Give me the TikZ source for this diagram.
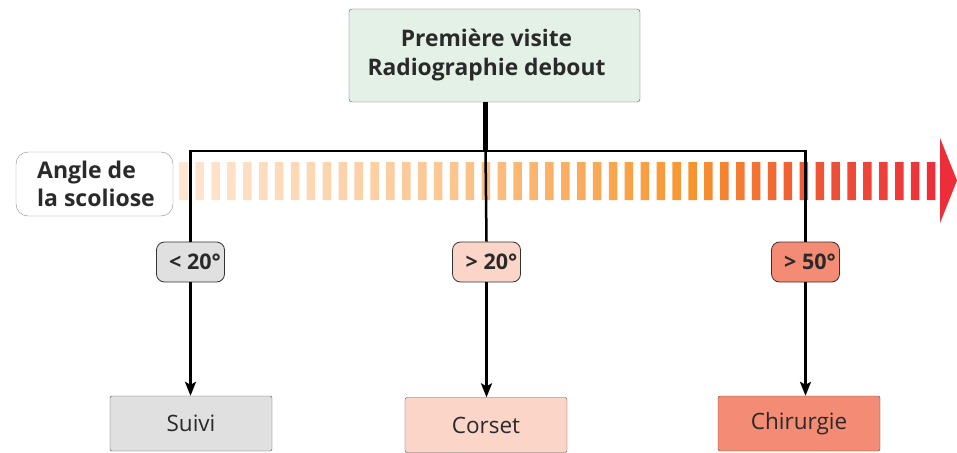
\documentclass[tikz,border=0pt]{standalone}
\usepackage{fontspec}
\setmainfont{Open Sans}
\usetikzlibrary{arrows.meta}
\definecolor{txt}{HTML}{2A2A2A}
\definecolor{topfill}{HTML}{E3F1E6}
\definecolor{grayfill}{HTML}{DFE0DF}
\definecolor{pinkfill}{HTML}{FBD5C8}
\definecolor{redfill}{HTML}{F48B74}
\definecolor{gA}{HTML}{FEE6D3}
\definecolor{gB}{HTML}{FCC690}
\definecolor{gC}{HTML}{F7962F}
\definecolor{gD}{HTML}{F05B34}
\definecolor{gE}{HTML}{ED2D3A}
\pgfdeclarehorizontalshading{scol}{100bp}{color(0bp)=(gA); color(25bp)=(gA); color(42.8bp)=(gB); color(58.7bp)=(gC); color(66bp)=(gD); color(75bp)=(gE); color(100bp)=(gE)}
\tikzset{
  boxbase/.style={draw=#1, text=txt, inner sep=0pt, align=center},
  topbox/.style={boxbase=black!65, fill=topfill, rounded corners=3pt, minimum width=291pt, minimum height=93pt, font=\fontsize{22.8}{29}\selectfont\bfseries},
  anglebox/.style={boxbase=black!45, fill=white, rounded corners=12pt, minimum width=157pt, minimum height=64pt, align=left, font=\fontsize{23}{28}\selectfont\bfseries},
  tag/.style={boxbase=black!80, rounded corners=8pt, minimum width=68pt, minimum height=40pt, line width=0.8pt, font=\fontsize{21.5}{24}\selectfont\bfseries},
  outbox/.style={boxbase=black!70, rounded corners=2pt, minimum width=162pt, minimum height=55pt, font=\fontsize{22.5}{26}\selectfont},
  conn/.style={line width=2.5pt, black},
  arr/.style={conn, -{Stealth[length=14pt,width=11pt,inset=3pt]}}
}
\begin{document}
\begin{tikzpicture}[x=1pt,y=-1pt]
\useasboundingbox (0,0) rectangle (957,452);
% gradient bar
\begin{scope}
  \clip \foreach \i in {0,...,47} {({179.5+\i*15.9},162) rectangle ++(8.5,38)};
  \shade[shading=scol] (179.5,162) rectangle (936,200);
\end{scope}
\fill[gE] (940,138) -- (957,180.5) -- (940,223) -- cycle;
% nodes
\node[topbox] (top) at (494.5,55.5) {\hspace*{-16pt}Première visite\\\hspace*{-16pt}Radiographie debout};
\node[anglebox] (angle) at (94.5,184) {\hspace*{3pt}Angle de\\\hspace*{3pt}la scoliose};
\node[tag, fill=grayfill] (l1) at (190.5,262) {\hspace*{9pt}< 20°};
\node[tag, fill=pinkfill] (l2) at (486.5,262) {\hspace*{10pt}> 20°};
\node[tag, fill=redfill] (l3) at (805.5,262) {\hspace*{9pt}> 50°};
\node[outbox, fill=grayfill] (b1) at (191,423.5) {Suivi};
\node[outbox, fill=pinkfill] (b2) at (486,425) {Corset};
\node[outbox, fill=redfill] (b3) at (799,423.5) {Chirurgie};
% connectors
\coordinate (J) at (485.5,151);
\draw[line width=4.5pt] (top.south -| J) -- (J);
\draw[conn, line join=miter] (l1.north) -- (l1.north |- J) -- (l3.north |- J) -- (l3.north);
\draw[conn] (J) -- (l2.north);
\draw[arr] (l1.south) -- (l1.south |- b1.north);
\draw[arr] (l2.south) -- (l2.south |- b2.north);
\draw[arr] (l3.south) -- (l3.south |- b3.north);
\end{tikzpicture}
\end{document}
